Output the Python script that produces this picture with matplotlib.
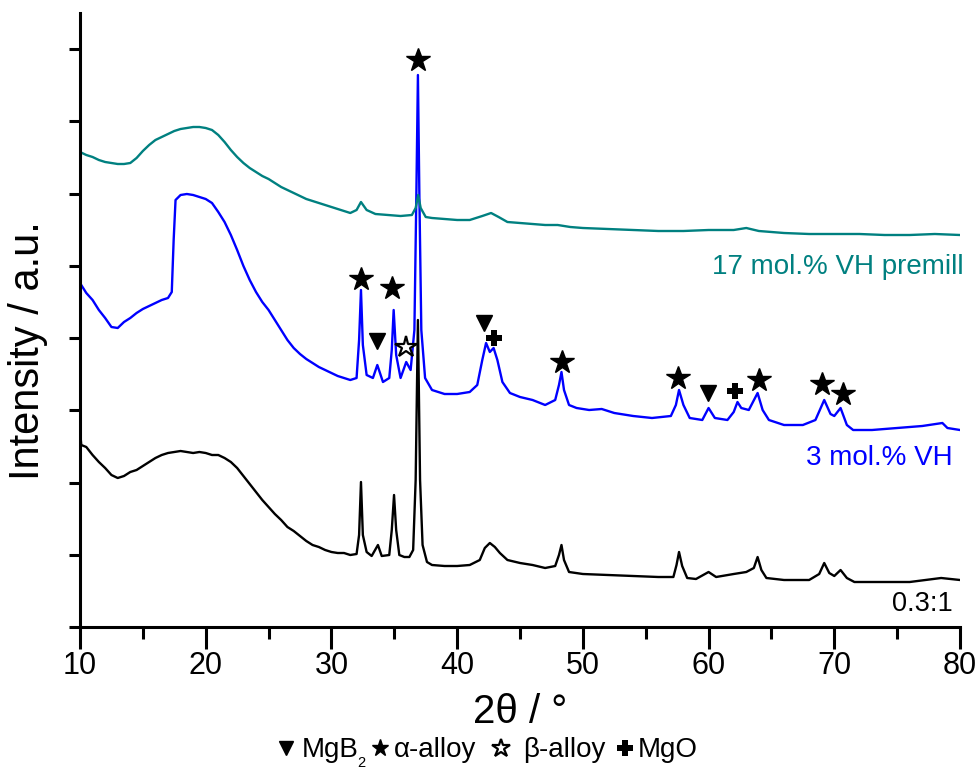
import matplotlib
matplotlib.use('Agg')
import matplotlib.pyplot as plt
from matplotlib.lines import Line2D
import numpy as np

plt.rcParams['font.family'] = ['Liberation Sans', 'DejaVu Sans']

# ---------------- data (2theta in degrees, intensity in a.u. incl. stacking offset) ----------------
tt_03 = [10.0, 10.1, 10.5, 11.0, 11.5, 12.0, 12.5, 13.0, 13.5, 14.0, 14.5, 15.0, 15.5, 16.0, 16.5,
         17.0, 17.5, 18.0, 18.5, 19.0, 19.5, 20.0, 20.5, 21.0, 21.5, 22.0, 22.5, 23.0, 23.5, 24.0,
         24.5, 25.0, 25.5, 26.0, 26.5, 27.0, 27.5, 28.0, 28.5, 29.0, 29.5, 30.0, 30.5, 31.0, 31.5,
         32.0, 32.2, 32.35, 32.5, 32.8, 33.2, 33.7, 34.0, 34.6, 34.8, 34.98, 35.15, 35.4, 35.8,
         36.2, 36.5, 36.7, 36.88, 37.05, 37.25, 37.6, 38.0, 39.0, 40.0, 41.0, 41.8, 42.2, 42.6,
         43.0, 43.4, 44.0, 45.0, 46.0, 47.0, 47.8, 48.1, 48.3, 48.5, 48.9, 50.0, 52.0, 54.0, 56.0,
         57.2, 57.45, 57.65, 57.9, 58.3, 59.0, 60.0, 60.6, 62.0, 63.0, 63.6, 63.9, 64.2, 64.6, 66.0,
         68.0, 68.8, 69.2, 69.6, 70.0, 70.5, 71.0, 71.6, 74.0, 76.0, 78.5, 80.0]
int_03 = [197, 182, 180, 172, 165, 159, 152, 149, 151, 155, 157, 161, 165, 169, 172,
          174, 175, 176, 175, 174, 175, 174, 172, 172, 169, 165, 159, 151, 143, 135,
          127, 120, 113, 107, 100, 96, 91, 86, 82, 80, 77, 75, 74, 74, 72,
          73, 92, 145, 92, 75, 71, 82, 71, 72, 97, 132, 97, 72, 70,
          70, 77, 147, 307, 147, 82, 65, 62, 61, 61, 62, 67, 79, 84,
          80, 74, 67, 64, 62, 59, 61, 72, 82, 67, 55, 53, 52, 51, 50,
          50, 62, 75, 61, 49, 48, 55, 50, 53, 55, 59, 70, 57, 49, 47,
          47, 53, 64, 54, 51, 57, 49, 45, 45, 45, 49, 47]

tt_3 = [10.0, 10.5, 11.0, 11.5, 12.0, 12.5, 13.0, 13.5, 14.0, 14.5, 15.0, 15.5, 16.0, 16.5, 17.0,
        17.3, 17.45, 17.6, 18.0, 18.5, 19.0, 19.5, 20.0, 20.5, 21.0, 21.5, 22.0, 22.5, 23.0, 23.5,
        24.0, 24.5, 25.0, 25.5, 26.0, 26.5, 27.0, 27.5, 28.0, 28.5, 29.0, 29.5, 30.0, 30.5, 31.0,
        31.5, 32.0, 32.2, 32.35, 32.5, 32.8, 33.3, 33.65, 34.1, 34.6, 34.8, 34.95, 35.15, 35.5,
        35.95, 36.3, 36.6, 36.75, 36.88, 37.0, 37.15, 37.45, 38.0, 39.0, 40.0, 41.0, 41.6, 42.0,
        42.3, 42.6, 42.9, 43.2, 43.6, 44.2, 45.0, 46.0, 47.0, 47.8, 48.1, 48.3, 48.5, 48.9, 49.5,
        50.5, 51.5, 52.5, 54.0, 55.5, 57.0, 57.4, 57.65, 58.0, 58.5, 59.5, 60.0, 60.5, 61.5, 62.0,
        62.3, 62.6, 63.2, 63.9, 64.3, 64.8, 66.0, 67.5, 68.5, 69.2, 69.7, 70.0, 70.5, 71.0, 71.5,
        73.0, 75.0, 77.0, 78.6, 79.0, 80.0]
int_3 = [344, 334, 327, 317, 309, 300, 299, 305, 309, 314, 318, 321, 324, 327, 329,
         335, 387, 427, 432, 433, 432, 430, 428, 424, 415, 405, 392, 377, 361, 347,
         335, 325, 317, 307, 297, 287, 279, 273, 268, 264, 260, 257, 254, 251, 249,
         247, 249, 287, 337, 282, 252, 249, 262, 245, 249, 277, 317, 272, 249,
         265, 257, 297, 427, 552, 427, 297, 249, 237, 233, 233, 235, 242, 267,
         284, 275, 279, 267, 245, 234, 230, 227, 222, 227, 242, 255, 237, 222, 219,
         217, 218, 214, 211, 209, 211, 222, 237, 222, 209, 207, 219, 209, 207, 215,
         225, 219, 217, 234, 217, 207, 202, 202, 207, 227, 213, 211, 219, 202, 197,
         197, 199, 201, 204, 199, 197]

tt_17 = [10.0, 10.5, 11.0, 11.5, 12.0, 12.5, 13.0, 13.5, 14.0, 14.5, 15.0, 15.5, 16.0, 16.5, 17.0,
         17.5, 18.0, 18.5, 19.0, 19.5, 20.0, 20.5, 21.0, 21.5, 22.0, 22.5, 23.0, 23.5, 24.0, 24.5,
         25.0, 25.5, 26.0, 26.5, 27.0, 27.5, 28.0, 28.5, 29.0, 29.5, 30.0, 30.5, 31.0, 31.5, 32.0,
         32.35, 32.8, 33.5, 34.5, 35.5, 36.4, 36.7, 36.9, 37.1, 37.5, 38.0, 39.0, 40.0, 41.0, 42.0,
         42.7, 43.3, 44.0, 45.0, 46.0, 47.0, 48.0, 49.0, 50.0, 52.0, 54.0, 56.0, 58.0, 60.0, 62.0,
         63.0, 64.0, 66.0, 68.0, 70.0, 72.0, 74.0, 76.0, 78.0, 80.0]
int_17 = [475, 472, 470, 467, 465, 464, 463, 463, 464, 469, 476, 482, 487, 490, 493,
          496, 498, 499, 500, 500, 499, 497, 492, 485, 477, 470, 464, 459, 455, 451,
          448, 444, 440, 437, 434, 431, 428, 426, 424, 422, 420, 418, 416, 414, 417,
          425, 417, 413, 412, 411, 412, 419, 432, 419, 410, 409, 408, 407, 407, 411,
          414, 410, 405, 404, 403, 402, 402, 400, 399, 398, 397, 396, 396, 397, 397,
          399, 396, 394, 393, 393, 393, 392, 392, 393, 392]

series_labels = ['0.3:1', '3 mol.% VH', '17 mol.% VH premill']

# phase markers (2theta, intensity)
alpha_tt = [36.88, 32.35, 34.85, 48.34, 57.57, 64.01, 69.03, 70.70]
alpha_int = [567, 348, 339, 265, 249, 247, 243, 233]
mgb2_tt = [33.65, 42.1, 59.96]
mgb2_int = [286, 304, 234]
beta_tt = [35.9]
beta_int = [280]
mgo_tt = [42.9, 62.1]
mgo_int = [289, 236]

# ---------------- figure ----------------
W, H = 980, 770
fig = plt.figure(figsize=(W / 100, H / 100), dpi=100)
ax = fig.add_axes([80 / W, 143 / H, 880 / W, 614 / H])

teal = '#008080'
ax.plot(tt_03, int_03, color='black', lw=1.7)
ax.plot(tt_3, int_3, color='#0000ff', lw=1.7)
ax.plot(tt_17, int_17, color=teal, lw=1.7)

ax.plot(alpha_tt, alpha_int, ls='none', marker='*', ms=17.5, color='black', zorder=5)
ax.plot(mgb2_tt, mgb2_int, ls='none', marker='v', ms=11.5, color='black', zorder=5)
ax.plot(beta_tt, beta_int, ls='none', marker='*', ms=16, mfc='white', mec='black', mew=1.6, zorder=5)
ax.plot(mgo_tt, mgo_int, ls='none', marker='P', ms=11.5, color='black', mew=0, zorder=5)

ax.text(79.4, 23, series_labels[0], color='black', fontsize=19.5, ha='right', va='center')
ax.text(79.45, 169, series_labels[1], color='#0000ff', fontsize=20, ha='right', va='center')
ax.text(80.25, 360, series_labels[2], color=teal, fontsize=20, ha='right', va='center')

ax.set_xlim(10, 80)
ax.set_ylim(0, 614)
ax.set_xticks(np.arange(10, 81, 10))
ax.set_xticks(np.arange(15, 80, 10), minor=True)
ax.set_yticks(np.arange(0, 600, 72.25))
ax.set_yticklabels([])
for s in ['top', 'right']:
    ax.spines[s].set_visible(False)
for s in ['left', 'bottom']:
    ax.spines[s].set_linewidth(2.2)
ax.tick_params(axis='x', which='major', length=15.5, width=2.2, direction='out', labelsize=22, pad=2)
ax.tick_params(axis='x', which='minor', length=8.5, width=2.2, direction='out')
ax.tick_params(axis='y', which='major', length=8, width=2.2, direction='out')

fig.text(520 / W, 1 - 723 / H, '2θ / °', fontsize=29, ha='center', va='baseline')
fig.text(28.5 / W, 1 - 351 / H, 'Intensity / a.u.', fontsize=30, rotation=90, ha='center', va='center')

# bottom legend row
base = 1 - 757 / H
mid = 1 - 748 / H
fs = 20
fig.add_artist(Line2D([286 / W], [mid], marker='v', ms=10, color='black', ls='none', transform=fig.transFigure))
fig.text(302 / W, base, 'MgB', fontsize=fs, ha='left', va='baseline')
fig.text(357 / W, 1 - 767 / H, '2', fontsize=10.5, ha='left', va='baseline')
fig.add_artist(Line2D([379.5 / W], [mid], marker='*', ms=12.5, color='black', ls='none', transform=fig.transFigure))
fig.text(394 / W, base, 'α-alloy', fontsize=fs, ha='left', va='baseline')
fig.add_artist(Line2D([501 / W], [mid], marker='*', ms=13.5, mfc='white', mec='black', mew=1.6, ls='none',
                      transform=fig.transFigure))
fig.text(523 / W, base, 'β-alloy', fontsize=fs, ha='left', va='baseline')
fig.add_artist(Line2D([624.5 / W], [mid], marker='P', ms=11, color='black', mew=0, ls='none', transform=fig.transFigure))
fig.text(638 / W, base, 'MgO', fontsize=fs, ha='left', va='baseline')

fig.savefig('out.png', dpi=100)
